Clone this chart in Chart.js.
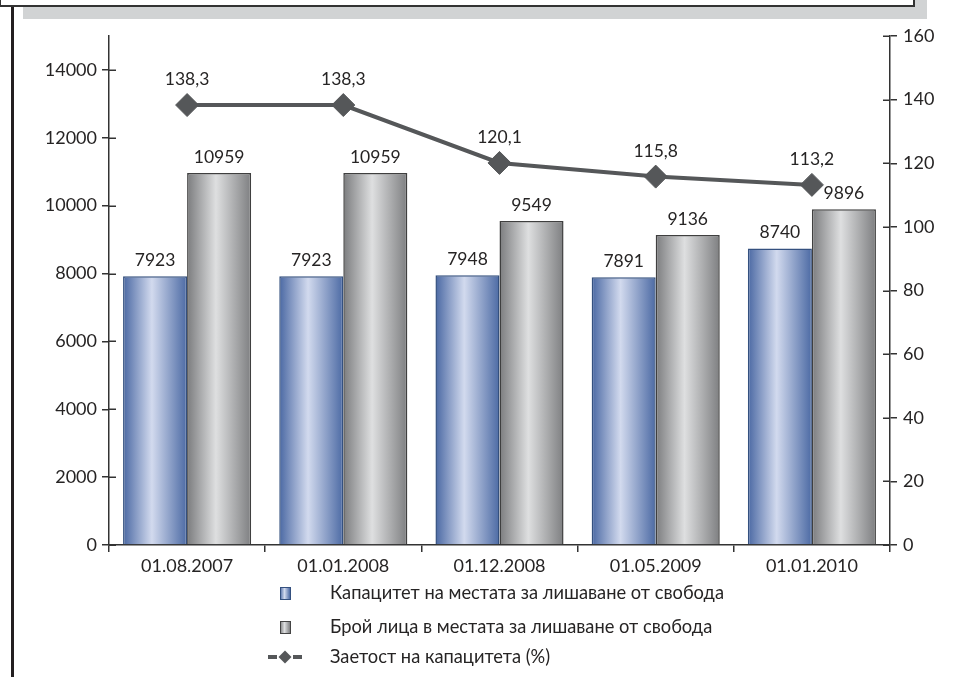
<!DOCTYPE html>
<html>
<head>
<meta charset="utf-8">
<script src="https://cdn.jsdelivr.net/npm/chart.js@4.4.1/dist/chart.umd.min.js"></script>
<style>
  html, body { margin: 0; padding: 0; background: #fff; }
  #wrap { position: relative; width: 965px; height: 677px; overflow: hidden; background: #fff; }
  #shadow { position: absolute; left: 23px; top: 0; width: 904px; height: 19px; background: #d1d3d4; }
  #box { position: absolute; left: -1px; top: -4px; width: 912px; height: 7px; border: 2px solid #333; background: #fff; }
  #rule { position: absolute; left: 11px; top: 7px; width: 3px; height: 670px; background: #231f20; }
  #chart { position: absolute; left: 0; top: 0; }
</style>
</head>
<body>
<div id="wrap">
  <div id="shadow"></div>
  <div id="box"></div>
  <div id="rule"></div>
  <canvas id="chart" width="965" height="677"></canvas>
</div>
<script>
// Dates of the observations
const categories = ['01.08.2007', '01.01.2008', '01.12.2008', '01.05.2009', '01.01.2010'];
// Capacity of the prison places
const capacity = [7923, 7923, 7948, 7891, 8740];
// Number of people held
const inmates = [10959, 10959, 9549, 9136, 9896];
// Occupancy of capacity, %
const occupancy = [138.3, 138.3, 120.1, 115.8, 113.2];
const seriesNames = [
  'Капацитет на местата за лишаване от свобода',
  'Брой лица в местата за лишаване от свобода',
  'Заетост на капацитета (%)'
];

const FONT = "'Lato', 'Open Sans', sans-serif";
const INK = '#262424';
const CAT_PCT = 0.82;

const blueStops = [[0, '#4a68a3'], [0.45, '#d2daee'], [1, '#4c6aa4']];
const grayStops = [[0, '#7b7c7e'], [0.45, '#dedfe0'], [1, '#7e7f81']];

function fillGradient(ctx2d, x0, x1, stops) {
  const g = ctx2d.createLinearGradient(x0, 0, x1, 0);
  stops.forEach(([o, c]) => g.addColorStop(o, c));
  return g;
}

// Horizontal "cylinder" shading, computed from the category scale for each bar
function barFill(stops) {
  return (ctx) => {
    const chart = ctx.chart;
    const xs = chart.scales && chart.scales.x;
    if (!xs || ctx.dataIndex === undefined || xs.right === undefined) return stops[1][1];
    const cat = (xs.right - xs.left) / categories.length;
    const w = cat * CAT_PCT / 2;
    const c = xs.getPixelForValue(ctx.dataIndex);
    const left = c - w + ctx.datasetIndex * w;
    return fillGradient(chart.ctx, left, left + w, stops);
  };
}

const decor = {
  id: 'decor',
  afterDatasetsDraw(chart) {
    const ctx = chart.ctx;
    // inner half of the value-axis tick marks (ticks cross the axis)
    ['y', 'y1'].forEach(id => {
      const s = chart.scales[id];
      const left = s.position === 'left';
      const ax = left ? s.right : s.left;
      ctx.save();
      ctx.strokeStyle = '#333';
      ctx.lineWidth = 1.5;
      s.ticks.forEach((t, i) => {
        const y = Math.round(s.getPixelForTick(i)) + 0.25;
        ctx.beginPath();
        ctx.moveTo(ax, y);
        ctx.lineTo(ax + (left ? 7 : -7), y);
        ctx.stroke();
      });
      ctx.restore();
    });

    ctx.save();
    ctx.fillStyle = INK;
    ctx.textAlign = 'center';
    ctx.textBaseline = 'alphabetic';
    ctx.font = '17.5px ' + FONT;
    // bar values
    [0, 1].forEach(di => {
      const meta = chart.getDatasetMeta(di);
      meta.data.forEach((el, i) => {
        ctx.fillText(String(chart.data.datasets[di].data[i]), el.x, el.y - 10);
      });
    });
    // occupancy values
    const lm = chart.getDatasetMeta(2);
    lm.data.forEach((el, i) => {
      ctx.fillText(occupancy[i].toFixed(1).replace('.', ','), el.x, el.y - 20);
    });
    ctx.restore();
  },
  afterDraw(chart) {
    const ctx = chart.ctx;
    const xs = chart.scales.x;
    const mx = xs.left + 176;   // legend marker centre
    const tx = xs.left + 221;   // legend text start
    const rows = [xs.top + 48, xs.top + 82, xs.top + 112];
    ctx.save();
    // square markers
    [[blueStops, '#34507f'], [grayStops, '#444']].forEach(([st, bc], k) => {
      const y = rows[k];
      ctx.fillStyle = fillGradient(ctx, mx - 5, mx + 5, st);
      ctx.fillRect(mx - 5, y - 6, 10, 12);
      ctx.strokeStyle = bc;
      ctx.lineWidth = 1;
      ctx.strokeRect(mx - 5 + 0.5, y - 6 + 0.5, 10, 12);
    });
    // line marker
    const ly = rows[2];
    ctx.strokeStyle = '#555759';
    ctx.lineWidth = 4;
    ctx.beginPath(); ctx.moveTo(mx - 17, ly); ctx.lineTo(mx - 8, ly); ctx.stroke();
    ctx.beginPath(); ctx.moveTo(mx + 8, ly); ctx.lineTo(mx + 17, ly); ctx.stroke();
    ctx.fillStyle = '#555759';
    ctx.beginPath();
    ctx.moveTo(mx - 6.5, ly); ctx.lineTo(mx, ly - 6.5); ctx.lineTo(mx + 6.5, ly); ctx.lineTo(mx, ly + 6.5);
    ctx.closePath(); ctx.fill();
    // texts
    ctx.fillStyle = INK;
    ctx.font = '18.3px ' + FONT;
    ctx.textAlign = 'left';
    ctx.textBaseline = 'middle';
    seriesNames.forEach((t, k) => ctx.fillText(t, tx, rows[k]));
    ctx.restore();
  }
};

const axisGrid = { drawOnChartArea: false, drawTicks: true, tickLength: 7, color: '#333', lineWidth: 1.5 };
const axisBorder = { display: true, color: '#333', width: 1.5 };
const tickFont = { family: FONT, size: 18 };
const plain = v => String(v);

new Chart(document.getElementById('chart'), {
  data: {
    labels: categories,
    datasets: [
      {
        type: 'bar', label: seriesNames[0], data: capacity, yAxisID: 'y', order: 1,
        backgroundColor: barFill(blueStops), borderColor: '#34507f', borderWidth: 1.5,
        categoryPercentage: CAT_PCT, barPercentage: 1
      },
      {
        type: 'bar', label: seriesNames[1], data: inmates, yAxisID: 'y', order: 1,
        backgroundColor: barFill(grayStops), borderColor: '#3f3f3f', borderWidth: 1.5,
        categoryPercentage: CAT_PCT, barPercentage: 1
      },
      {
        type: 'line', label: seriesNames[2], data: occupancy, yAxisID: 'y1', order: 0,
        borderColor: '#555759', borderWidth: 4, tension: 0,
        pointStyle: 'rectRot', pointRadius: 11.5, pointHoverRadius: 11.5,
        pointBackgroundColor: '#555759', pointBorderColor: '#555759', pointBorderWidth: 1
      }
    ]
  },
  options: {
    responsive: false,
    animation: false,
    events: [],
    layout: { padding: { top: 36, left: 0, right: 0, bottom: 0 } },
    plugins: { legend: { display: false }, tooltip: { enabled: false } },
    scales: {
      x: {
        type: 'category',
        grid: { ...axisGrid, offset: true },
        border: axisBorder,
        ticks: { font: tickFont, color: INK, padding: 3, maxRotation: 0 },
        afterFit: s => { s.height = 132; }
      },
      y: {
        type: 'linear', position: 'left', min: 0, max: 15000,
        grid: axisGrid, border: axisBorder,
        ticks: { stepSize: 1000, font: tickFont, color: INK, padding: 5, callback: plain },
        // labelled ticks every 2000; the axis itself runs up to 15000
        afterBuildTicks: s => { s.ticks = s.ticks.filter(t => t.value % 2000 === 0); },
        afterFit: s => { s.width = 109; }
      },
      y1: {
        type: 'linear', position: 'right', min: 0, max: 160,
        grid: axisGrid, border: axisBorder,
        ticks: { stepSize: 20, font: tickFont, color: INK, padding: 6, callback: plain },
        afterFit: s => { s.width = 75; }
      }
    }
  },
  plugins: [decor]
});
</script>
</body>
</html>
